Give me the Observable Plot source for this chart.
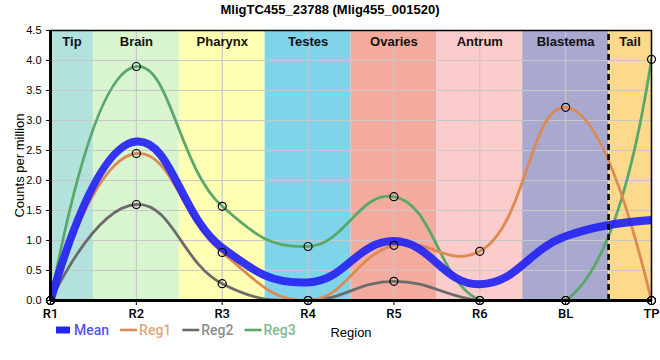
<!DOCTYPE html>
<html>
<head>
<meta charset="utf-8">
<script src="https://cdn.jsdelivr.net/npm/d3@7"></script>
<script src="https://cdn.jsdelivr.net/npm/@observablehq/plot@0.6"></script>
<style>
  body { margin: 0; background: white; }
  #chart { width: 660px; height: 360px; }
</style>
</head>
<body>
<div id="chart"></div>
<script>
// ---- data ----
const title = "MligTC455_23788 (Mlig455_001520)";
const regions = ["R1", "R2", "R3", "R4", "R5", "R6", "BL", "TP"];
const reg1 = [0, 2.45, 0.80, 0.0, 0.92, 0.82, 3.22, 0.0];
const reg2 = [0, 1.60, 0.28, 0.0, 0.32, 0.0, 0.0, 0.0];
const reg3 = [0, 3.90, 1.57, 0.90, 1.73, 0.0, 0.0, 4.02];
const mean = [0, 2.65, 0.88, 0.30, 0.99, 0.27, 1.07, 1.34];
const seriesNames = ["Mean", "Reg1", "Reg2", "Reg3"];
const seriesColors = ["#2424f4", "#dd8a52", "#6b6b6b", "#59a86a"];
const areaNames = ["Tip", "Brain", "Pharynx", "Testes", "Ovaries", "Antrum", "Blastema", "Tail"];
const areaStart = [0, 0.5, 1.5, 2.5, 3.5, 4.5, 5.5, 6.5];
const areaEnd = [0.5, 1.5, 2.5, 3.5, 4.5, 5.5, 6.5, 7];
const areaColors = ["#b3e2dd", "#d9f5cf", "#ffffb3", "#80d4ea", "#f4ab9f", "#fccbcb", "#a9a8cf", "#fdda8b"];
const tailBoundary = [6.5];
const yTicks = [0, 0.5, 1, 1.5, 2, 2.5, 3, 3.5, 4, 4.5];
const smoothing = 1.3;

// ---- spline curve (Catmull-Rom style smoothing in pixel space, quadratic end segments) ----
function makeTangent(p0, p1, p2, s) {
  const d1x = p0[0] - p1[0], d1y = p0[1] - p1[1];
  const d2x = p2[0] - p1[0], d2y = p2[1] - p1[1];
  const d1a = Math.pow(d1x * d1x + d1y * d1y, 0.25);
  const d2a = Math.pow(d2x * d2x + d2y * d2y, 0.25);
  const numx = (d2a * d2a * d1x - d1a * d1a * d2x) * s;
  const numy = (d2a * d2a * d1y - d1a * d1a * d2y) * s;
  const den1 = 3 * d2a * (d1a + d2a);
  const den2 = 3 * d1a * (d1a + d2a);
  return [
    [p1[0] + (den1 && numx / den1), p1[1] + (den1 && numy / den1)],
    [p1[0] - (den2 && numx / den2), p1[1] - (den2 && numy / den2)]
  ];
}
function SplineCurve(context) { this._context = context; }
SplineCurve.prototype = {
  areaStart() {}, areaEnd() {},
  lineStart() { this._pts = []; },
  point(x, y) { this._pts.push([+x, +y]); },
  lineEnd() {
    const c = this._context, p = this._pts, n = p.length;
    if (!n) return;
    c.moveTo(p[0][0], p[0][1]);
    if (n < 3) { for (let i = 1; i < n; i++) c.lineTo(p[i][0], p[i][1]); return; }
    const t = [];
    for (let i = 1; i < n - 1; i++) t.push(makeTangent(p[i - 1], p[i], p[i + 1], smoothing));
    c.quadraticCurveTo(t[0][0][0], t[0][0][1], p[1][0], p[1][1]);
    for (let i = 2; i < n - 1; i++) {
      c.bezierCurveTo(t[i - 2][1][0], t[i - 2][1][1], t[i - 1][0][0], t[i - 1][0][1], p[i][0], p[i][1]);
    }
    c.quadraticCurveTo(t[n - 3][1][0], t[n - 3][1][1], p[n - 1][0], p[n - 1][1]);
  }
};
const spline = context => new SplineCurve(context);

// ---- tables ----
const areas = areaNames.map((n, i) => ({name: n, x1: areaStart[i], x2: areaEnd[i], color: areaColors[i]}));
const toRows = (vals, name) => vals.map((v, i) => ({i, v, name}));
const rows1 = toRows(reg1, "Reg1"), rows2 = toRows(reg2, "Reg2"), rows3 = toRows(reg3, "Reg3"), rowsM = toRows(mean, "Mean");
const dots = [...rows1, ...rows2, ...rows3];

const plot = Plot.plot({
  width: 660,
  height: 360,
  marginTop: 30,
  marginLeft: 50,
  marginRight: 9,
  marginBottom: 60,
  style: {fontFamily: "'Liberation Sans', Arial, sans-serif", fontSize: "11px", background: "white", color: "black"},
  x: {type: "linear", domain: [0, regions.length - 1]},
  y: {domain: [0, 4.5]},
  marks: [
    Plot.rect(areas, {x1: "x1", x2: "x2", y1: 0, y2: 4.5, fill: "color"}),
    Plot.gridY(yTicks, {stroke: "#c8c8c8", strokeOpacity: 1, strokeWidth: 1.2}),
    Plot.gridX(d3.range(regions.length), {stroke: "#c8c8c8", strokeOpacity: 1, strokeWidth: 1.2}),
    Plot.text(areas, {x: d => (d.x1 + d.x2) / 2, y: 4.5, dy: 11, text: "name", fontWeight: "bold", fontSize: 13, fill: "#111"}),
    Plot.line(rows3, {x: "i", y: "v", stroke: seriesColors[3], strokeWidth: 2.8, curve: spline, clip: true}),
    Plot.line(rows2, {x: "i", y: "v", stroke: seriesColors[2], strokeWidth: 2.8, curve: spline, clip: true}),
    Plot.line(rows1, {x: "i", y: "v", stroke: seriesColors[1], strokeWidth: 2.8, curve: spline, clip: true}),
    Plot.line(rowsM, {x: "i", y: "v", stroke: seriesColors[0], strokeWidth: 8, strokeOpacity: 0.92, curve: spline, clip: true}),
    Plot.ruleX(tailBoundary, {stroke: "black", strokeWidth: 2.6, strokeDasharray: "6,4", y1: 0, y2: 4.5}),
    Plot.dot(dots, {x: "i", y: "v", r: 4, stroke: "black", strokeWidth: 1.2, fill: "none"}),
    Plot.frame({stroke: "black", strokeWidth: 1.5}),
    Plot.ruleY([0], {stroke: "black", strokeWidth: 3}),
    Plot.ruleX([0], {stroke: "black", strokeWidth: 3}),
    Plot.axisY(yTicks, {tickFormat: d3.format(".1f"), tickSize: 4, fontSize: 11, label: "Counts per million", labelAnchor: "center", labelArrow: "none", labelOffset: 36}),
    Plot.axisX(d3.range(regions.length), {tickFormat: i => regions[i], tickSize: 5, tickPadding: 3, fontSize: 13, fontFamily: "Roboto", fontWeight: 500, label: "Region", labelAnchor: "center", labelArrow: "none", labelOffset: 36}),
  ]
});

document.getElementById("chart").appendChild(plot);
const svg = d3.select(plot);
svg.selectAll("[aria-label='x-axis label']").attr("font-size", 13).attr("font-family", "'Liberation Sans', Arial, sans-serif").attr("font-weight", "normal");
svg.selectAll("[aria-label='y-axis label']").attr("font-size", 13);

// title
svg.append("text")
  .attr("x", 330).attr("y", 14)
  .attr("text-anchor", "middle")
  .attr("font-family", "'Liberation Sans', Arial, sans-serif")
  .attr("font-weight", "bold").attr("font-size", 13)
  .text(title);

// legend
const leg = svg.append("g").attr("font-family", "Roboto").attr("font-size", 14).attr("font-weight", 500).attr("text-anchor", "start");
let lx = 56;
const ly = 330;
seriesNames.forEach((name, k) => {
  const thick = k === 0;
  leg.append("line").attr("x1", lx).attr("x2", lx + (thick ? 14 : 17))
    .attr("y1", ly).attr("y2", ly)
    .attr("stroke", seriesColors[k]).attr("stroke-width", thick ? 7 : 2.6);
  const gap = thick ? 18 : 19;
  const t = leg.append("text").attr("x", lx + gap).attr("y", ly).attr("dy", "0.36em")
    .attr("fill", seriesColors[k]).attr("fill-opacity", 0.8).text(name);
  const w = t.node().getComputedTextLength();
  lx += gap + w + 11;
});
</script>
</body>
</html>
